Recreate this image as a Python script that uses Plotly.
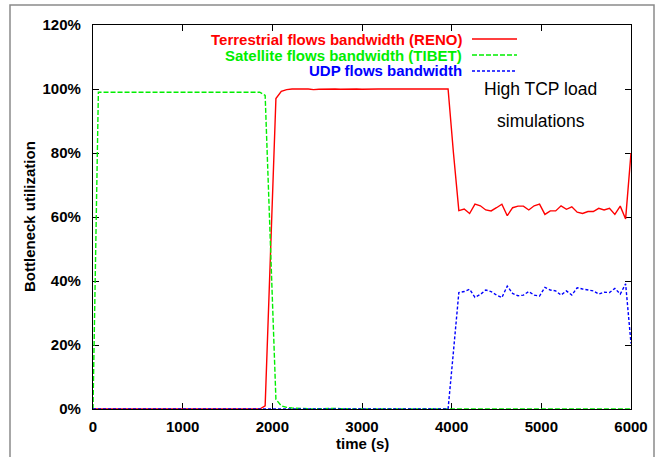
import plotly.graph_objects as go

# sampling grid (s)
time_s = list(range(0, 6001, 60))

# Terrestrial flows bandwidth (RENO), %
reno = ([0.0] * 32 +
        [1.0, 49.0, 97.0, 99.3, 99.8] +
        [100.0, 99.9, 100.0, 100.0, 99.8, 99.9, 100.0, 100.0, 100.0, 99.9,
         100.0, 100.0, 100.0, 99.9, 100.0, 100.0, 100.0, 100.0, 100.0, 100.0,
         100.0, 100.0, 100.0, 100.0, 100.0, 100.0, 100.0, 100.0, 99.9, 100.0] +
        [80.0] +
        [62.0, 62.5, 61.1, 64.0, 63.5, 62.2, 61.9, 62.9, 64.0, 60.4,
         62.9, 63.4, 63.4, 62.2, 63.5, 64.0, 60.8, 61.9, 61.9, 63.5,
         62.4, 63.2, 61.5, 61.1, 61.7, 61.7, 62.7, 62.2, 62.7, 60.8,
         63.4, 59.4] +
        [80.0])

# Satellite flows bandwidth (TIBET), %
tibet = ([0.0] + [99.0] * 31 +
         [98.0, 51.0, 3.0, 1.0, 0.5, 0.3, 0.2, 0.1, 0.1, 0.0,
          0.1, 0.2, 0.3, 0.2, 0.1, 0.0] +
         [0.0] * 53)

# UDP flows bandwidth, %
udp = ([0.0] * 67 +
       [18.0] +
       [36.4, 36.7, 37.4, 34.9, 35.8, 37.2, 36.7, 35.6, 34.8, 38.4,
        36.1, 35.4, 35.6, 36.7, 35.6, 35.3, 38.0, 37.2, 36.9, 35.6,
        36.9, 35.6, 37.9, 37.5, 37.2, 36.9, 35.9, 36.5, 36.4, 37.7,
        35.9, 39.1] +
       [20.5])

series_names = ["Terrestrial flows bandwidth (RENO)",
                "Satellite flows bandwidth (TIBET)",
                "UDP flows bandwidth"]
series_colors = ["#ff0000", "#00ee00", "#0000ff"]
series_dash = ["solid", "5px,2px", "3px,2px"]
series_vals = [reno, tibet, udp]

x_ticks = [0, 1000, 2000, 3000, 4000, 5000, 6000]
x_tick_labels = ["0", "1000", "2000", "3000", "4000", "5000", "6000"]
y_ticks = [0, 20, 40, 60, 80, 100, 120]
y_tick_labels = ["0%", "20%", "40%", "60%", "80%", "100%", "120%"]

FONT = "Liberation Sans, Arial, sans-serif"

fig = go.Figure()
for name, vals, col, dsh in zip(series_names, series_vals, series_colors, series_dash):
    fig.add_trace(go.Scatter(x=time_s, y=vals, mode="lines", name=name,
                             line=dict(color=col, width=1.4, dash=dsh),
                             showlegend=False))

L, R, T, B = 93, 29, 25, 48
W, H = 660, 457
pw, ph = W - L - R, H - T - B

def px(x):
    return (x - L) / pw

def py(y):
    return (H - B - y) / ph

axis_common = dict(showline=True, linecolor="black", linewidth=1.3, mirror="ticks",
                   ticks="inside", ticklen=6, tickwidth=1, tickcolor="black",
                   showgrid=False, zeroline=False, layer="below traces",
                   tickfont=dict(family=FONT, size=15, color="black", weight="bold"))

fig.update_layout(
    width=W, height=H,
    margin=dict(l=L, r=R, t=T, b=B),
    paper_bgcolor="white", plot_bgcolor="white",
    xaxis=dict(range=[0, 6000], tickmode="array", tickvals=x_ticks, ticktext=x_tick_labels,
               ticklabelstandoff=4, **axis_common),
    yaxis=dict(range=[0, 120], tickmode="array", tickvals=y_ticks, ticktext=y_tick_labels,
               ticklabelstandoff=8, **axis_common),
)

annotations = []
shapes = []
# outer gray frame
shapes.append(dict(type="rect", xref="paper", yref="paper",
                   x0=px(10), x1=px(654), y0=py(470), y1=py(5),
                   line=dict(color="#8a8a8a", width=1.5), fillcolor="rgba(0,0,0,0)",
                   layer="below"))

# legend (text right, line sample right of it)
legend_y = [39, 55, 71]
for name, col, dsh, yy in zip(series_names, series_colors, series_dash, legend_y):
    annotations.append(dict(text=name, xref="paper", yref="paper", x=px(463), y=py(yy),
                            xanchor="right", yanchor="middle", showarrow=False, borderpad=0,
                            font=dict(family=FONT, size=15, color=col, weight="bold")))
    shapes.append(dict(type="line", xref="paper", yref="paper",
                       x0=px(472), x1=px(517), y0=py(yy), y1=py(yy),
                       line=dict(color=col, width=1.4, dash=dsh)))

annotations.append(dict(text="High TCP load", xref="paper", yref="paper",
                        x=px(540.5), y=py(89), xanchor="center", yanchor="middle",
                        showarrow=False, font=dict(family=FONT, size=17.5, color="black")))
annotations.append(dict(text="simulations", xref="paper", yref="paper",
                        x=px(540.5), y=py(121), xanchor="center", yanchor="middle",
                        showarrow=False, font=dict(family=FONT, size=17.5, color="black")))

# axis titles
annotations.append(dict(text="Bottleneck utilization", xref="paper", yref="paper",
                        x=px(29), y=0.5, xanchor="center", yanchor="middle", textangle=-90,
                        showarrow=False, font=dict(family=FONT, size=15, color="black", weight="bold")))
annotations.append(dict(text="time (s)", xref="paper", yref="paper",
                        x=0.5, y=py(443), xanchor="center", yanchor="middle",
                        showarrow=False, font=dict(family=FONT, size=15, color="black", weight="bold")))

fig.update_layout(annotations=annotations, shapes=shapes)

fig.write_html("out.html", config={"displayModeBar": False},
               post_script="document.body.style.margin='0';")
